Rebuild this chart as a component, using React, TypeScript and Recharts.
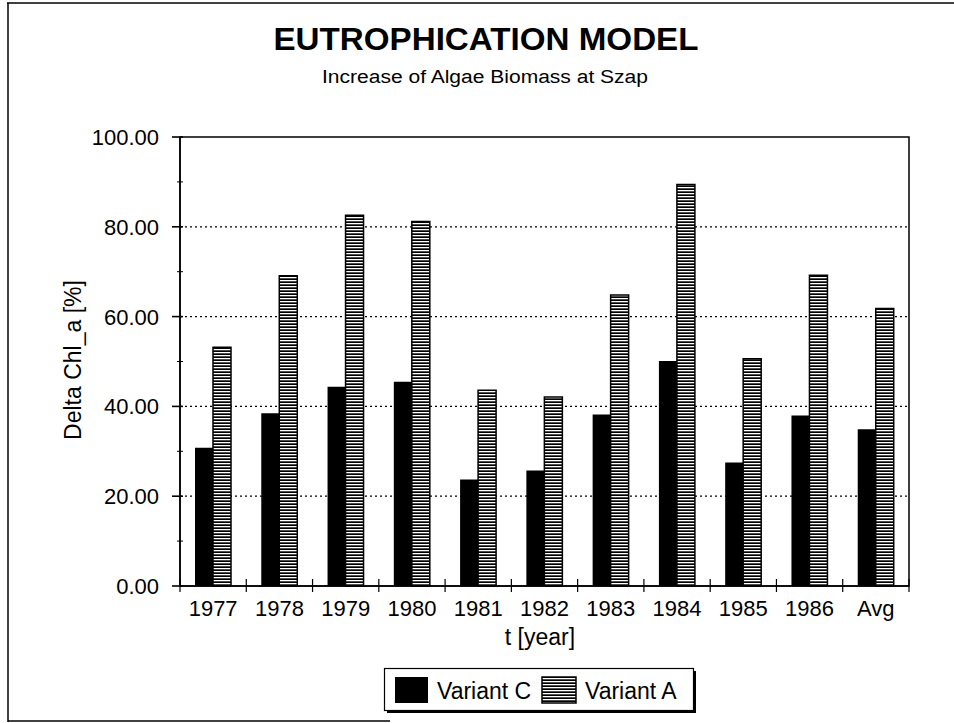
import React from 'react';
import { BarChart, Bar, XAxis, YAxis, CartesianGrid, Legend, ReferenceArea } from 'recharts';

const YEARS = ['1977', '1978', '1979', '1980', '1981', '1982', '1983', '1984', '1985', '1986', 'Avg'];
const VARIANT_C = [30.8, 38.5, 44.4, 45.5, 23.7, 25.7, 38.2, 50.1, 27.5, 38.0, 34.9];
const VARIANT_A = [53.2, 69.1, 82.6, 81.2, 43.6, 42.1, 64.8, 89.4, 50.6, 69.2, 61.8];
const Y_TICKS = [0, 10, 20, 30, 40, 50, 60, 70, 80, 90, 100];
const GRID_VALUES = [20, 40, 60, 80];
const SERIES_NAMES = ['Variant C', 'Variant A'];

const data = YEARS.map((year, i) => ({ year, c: VARIANT_C[i], a: VARIANT_A[i] }));

const W = 954;
const H = 723;
const PLOT_LEFT = 180;
const PLOT_RIGHT = 909;
const PLOT_TOP = 137;
const PLOT_BOTTOM = 586;
const PLOT_W = PLOT_RIGHT - PLOT_LEFT;
const BAND = PLOT_W / YEARS.length;
const Y_AXIS_W = 100;
const X_AXIS_H = 40;
const FONT = "'Liberation Sans', Arial, Helvetica, sans-serif";

const Y_TICK_SIZE = 8;
const Y_TICK_MARGIN = 13;
const X_TICK_SIZE = 6;
const X_TICK_MARGIN = 4;

const YTick = (props: any) => {
  const { x, y, payload } = props;
  const ax = x + Y_TICK_SIZE + Y_TICK_MARGIN;
  const v = payload.value as number;
  const major = v % 20 === 0;
  return (
    <g>
      <line x1={major ? ax - 8 : ax - 3} x2={ax + 3} y1={y} y2={y} stroke="#000" strokeWidth={major ? 1.6 : 1} />
      {major && (
        <text x={x} y={y} dy={8} textAnchor="end" fontFamily={FONT} fontSize={22} fill="#000">
          {v.toFixed(2)}
        </text>
      )}
    </g>
  );
};

const XTick = (props: any) => {
  const { x, y, payload, index } = props;
  const ay = y - X_TICK_SIZE - X_TICK_MARGIN;
  const last = index === YEARS.length - 1;
  return (
    <g>
      <line x1={x - BAND / 2} x2={x - BAND / 2} y1={ay - 7} y2={ay + 6} stroke="#000" strokeWidth={1.2} />
      {last && <line x1={x + BAND / 2} x2={x + BAND / 2} y1={ay - 7} y2={ay + 6} stroke="#000" strokeWidth={1.2} />}
      <text x={x} y={ay + 30} textAnchor="middle" fontFamily={FONT} fontSize={22} fill="#000">
        {payload.value}
      </text>
    </g>
  );
};

const StripePattern = ({ id }: { id: string }) => (
  <pattern id={id} patternUnits="userSpaceOnUse" width={4} height={3}>
    <rect x={0} y={0} width={4} height={3} fill="#000" />
    <rect x={0} y={1} width={4} height={1.3} fill="#fff" />
  </pattern>
);

const LegendContent = () => (
  <svg width={316} height={48} style={{ display: 'block', overflow: 'visible' }}>
    <defs>
      <StripePattern id="legendStripes" />
    </defs>
    <rect x={3} y={3} width={309} height={42} fill="#000" />
    <rect x={0.5} y={0.5} width={309} height={42} fill="#fff" stroke="#000" strokeWidth={1.2} />
    <rect x={11} y={9} width={33} height={26} fill="#000" />
    <text x={53} y={31} fontFamily={FONT} fontSize={23} fill="#000">{SERIES_NAMES[0]}</text>
    <rect x={158} y={9} width={34} height={26} fill="url(#legendStripes)" stroke="#000" strokeWidth={1.5} />
    <text x={201} y={31} fontFamily={FONT} fontSize={23} fill="#000">{SERIES_NAMES[1]}</text>
  </svg>
);

export default function App() {
  return (
    <div style={{ position: 'absolute', left: 0, top: 0, width: W, height: H, background: '#fff' }}>
      <BarChart
        width={W}
        height={H}
        data={data}
        margin={{ top: PLOT_TOP, right: W - PLOT_RIGHT, bottom: H - PLOT_BOTTOM - X_AXIS_H, left: PLOT_LEFT - Y_AXIS_W }}
        barGap={0}
        barSize={18}
      >
        <defs>
          <StripePattern id="stripes" />
        </defs>
        <CartesianGrid vertical={false} horizontalValues={GRID_VALUES} stroke="#000" strokeDasharray="2 3" strokeWidth={1.2} />
        <ReferenceArea y1={0} y2={100} fill="none" fillOpacity={0} stroke="#000" strokeWidth={1.5} ifOverflow="visible" />
        <XAxis
          dataKey="year"
          height={X_AXIS_H}
          tickSize={X_TICK_SIZE}
          tickMargin={X_TICK_MARGIN}
          tickLine={false}
          axisLine={{ stroke: '#000', strokeWidth: 1.5 }}
          tick={<XTick />}
          interval={0}
        />
        <YAxis
          width={Y_AXIS_W}
          domain={[0, 100]}
          ticks={Y_TICKS}
          interval={0}
          tickSize={Y_TICK_SIZE}
          tickMargin={Y_TICK_MARGIN}
          tickLine={false}
          axisLine={{ stroke: '#000', strokeWidth: 1.5 }}
          tick={<YTick />}
        />
        <Bar dataKey="c" name={SERIES_NAMES[0]} fill="#000" isAnimationActive={false} />
        <Bar dataKey="a" name={SERIES_NAMES[1]} fill="url(#stripes)" stroke="#000" strokeWidth={1.5} isAnimationActive={false} />
        <Legend
          layout="horizontal"
          verticalAlign="middle"
          align="center"
          content={<LegendContent />}
          wrapperStyle={{ position: 'absolute', left: 384, top: 668, width: 316, height: 48 }}
        />
      </BarChart>
      <svg width={W} height={H} style={{ position: 'absolute', left: 0, top: 0, pointerEvents: 'none' }}>
        <line x1={7} x2={W} y1={3} y2={3} stroke="#000" strokeWidth={1.5} />
        <line x1={8} x2={8} y1={3} y2={722} stroke="#000" strokeWidth={1.5} />
        <line x1={8} x2={390} y1={721} y2={721} stroke="#000" strokeWidth={1.5} />
        <text x={486} y={50} textAnchor="middle" fontFamily={FONT} fontWeight="bold" fontSize={32} textLength={425} lengthAdjust="spacingAndGlyphs" fill="#000">
          EUTROPHICATION MODEL
        </text>
        <text x={485} y={83} textAnchor="middle" fontFamily={FONT} fontSize={18} textLength={326} lengthAdjust="spacingAndGlyphs" fill="#000">
          Increase of Algae Biomass at Szap
        </text>
        <text x={540} y={645} textAnchor="middle" fontFamily={FONT} fontSize={23} fill="#000">
          t [year]
        </text>
        <text transform="translate(81,360) rotate(-90)" textAnchor="middle" fontFamily={FONT} fontSize={23} fill="#000">
          Delta Chl_a [%]
        </text>
      </svg>
    </div>
  );
}
